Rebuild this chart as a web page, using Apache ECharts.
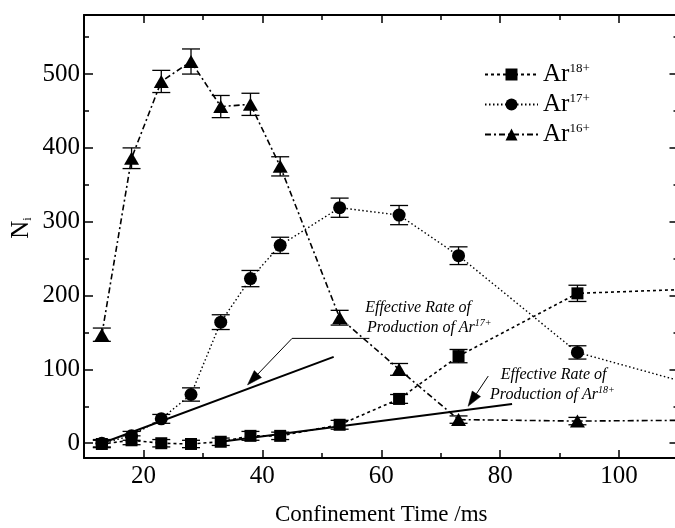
<!DOCTYPE html>
<html><head><meta charset="utf-8">
<script src="https://cdn.jsdelivr.net/npm/echarts@6.0.0/dist/echarts.min.js"></script>
<style>html,body{margin:0;padding:0;background:#fff}#c{width:675px;height:528px}</style>
</head><body><div id="c"></div>
<script>
// ---- data ----
const times = [13, 18, 23, 28, 33, 38, 43, 53, 63, 73, 93];
const ar18 = [-1, 4, 0, -1, 2, 10, 10, 25, 60, 118, 203];
const ar18Err = [5, 6, 5, 5, 5, 6, 5, 6, 6, 9, 11];
const ar17 = [0, 10, 33, 66, 164, 223, 268, 319, 309, 254, 123];
const ar17Err = [5, 6, 6, 9, 10, 11, 11, 13, 13, 12, 9];
const ar16 = [147, 386, 490, 517, 456, 459, 375, 170, 100, 32, 30];
const ar16Err = [9, 14, 15, 17, 15, 15, 13, 10, 8, 5, 5];
const tailX = 110;
const ar18Tail = 208, ar17Tail = 85, ar16Tail = 31;
const rateAr17 = [[13, 0], [52, 117]];
const rateAr18 = [[33, 2], [82, 53]];
const arrow17 = [[58, 142], [45, 142], [37.5, 79]];
const arrow18 = [[78, 91], [74.6, 50]];
const xMajorTicks = [20, 40, 60, 80, 100];
const xMinorTicks = [30, 50, 70, 90];
const yMajorTicks = [0, 100, 200, 300, 400, 500];
const yMinorTicks = [50, 150, 250, 350, 450, 550];
const seriesNames = ['Ar18+', 'Ar17+', 'Ar16+'];
const seriesSup = {'Ar18+': '18+', 'Ar17+': '17+', 'Ar16+': '16+'};

const FONT = '"Liberation Serif", "Times New Roman", serif';
const chart = echarts.init(document.getElementById('c'), null, {renderer: 'canvas'});

function xAx(pos, ticks, len, labels, withLine) {
  return {
    type: 'value', position: pos, min: 10, max: 110,
    axisLine: {show: withLine, onZero: false, lineStyle: {color: '#000', width: 2}},
    axisTick: {show: true, inside: true, length: len, customValues: ticks, lineStyle: {color: '#000', width: 1.5}},
    axisLabel: {show: labels, customValues: ticks, margin: 6, color: '#000', fontSize: 25, fontFamily: FONT},
    splitLine: {show: false}
  };
}
function yAx(pos, ticks, len, labels, withLine) {
  return {
    type: 'value', position: pos, min: -20, max: 580,
    axisLine: {show: withLine, onZero: false, lineStyle: {color: '#000', width: 2}},
    axisTick: {show: true, inside: true, length: len, customValues: ticks, lineStyle: {color: '#000', width: 1.5}},
    axisLabel: {show: labels, customValues: ticks, margin: 4, color: '#000', fontSize: 25, fontFamily: FONT},
    splitLine: {show: false}
  };
}

const xAxes = [
  Object.assign(xAx('bottom', xMajorTicks, 8, true, true), {
    name: 'Confinement Time /ms', nameLocation: 'middle', nameGap: 45,
    nameTextStyle: {color: '#000', fontSize: 23, fontFamily: FONT}
  }),
  xAx('bottom', xMinorTicks, 5, false, false),
  xAx('top', xMajorTicks, 8, false, true),
  xAx('top', xMinorTicks, 5, false, false)
];
const yAxes = [
  yAx('left', yMajorTicks, 9, true, true),
  yAx('left', yMinorTicks, 5, false, false),
  yAx('right', yMajorTicks, 9, false, true),
  yAx('right', yMinorTicks, 5, false, false)
];

function pts(vals, tail) {
  const d = times.map((t, i) => [t, vals[i]]);
  d.push({value: [tailX, tail], symbol: 'none'});
  return d;
}
function errData(vals, errs) {
  return times.map((t, i) => [t, vals[i], errs[i]]);
}
function errorSeries(vals, errs) {
  return {
    type: 'custom', z: 3, silent: true,
    renderItem: function (params, api) {
      const x = api.value(0), y = api.value(1), e = api.value(2);
      const a = api.coord([x, y + e]), b = api.coord([x, y - e]);
      const hw = 9;
      const st = {stroke: '#000', lineWidth: 1.3};
      return {type: 'group', children: [
        {type: 'line', shape: {x1: a[0], y1: a[1], x2: b[0], y2: b[1]}, style: st},
        {type: 'line', shape: {x1: a[0] - hw, y1: a[1], x2: a[0] + hw, y2: a[1]}, style: st},
        {type: 'line', shape: {x1: b[0] - hw, y1: b[1], x2: b[0] + hw, y2: b[1]}, style: st}
      ]};
    },
    data: errData(vals, errs)
  };
}

const arrows = [arrow17, arrow18];
const arrowSeries = {
  type: 'custom', z: 2, silent: true,
  renderItem: function (params, api) {
    const pts = arrows[params.dataIndex].map(p => api.coord(p));
    const tip = pts[pts.length - 1], prev = pts[pts.length - 2];
    const dx = tip[0] - prev[0], dy = tip[1] - prev[1];
    const L = Math.sqrt(dx * dx + dy * dy);
    const ux = dx / L, uy = dy / L;
    const len = 15, hw = 5;
    const bx = tip[0] - ux * len, by = tip[1] - uy * len;
    const linePts = pts.slice(0, -1).concat([[bx, by]]);
    return {type: 'group', children: [
      {type: 'polyline', shape: {points: linePts}, style: {stroke: '#000', lineWidth: 1, fill: null}},
      {type: 'polygon', shape: {points: [tip, [bx - uy * hw, by + ux * hw], [bx + uy * hw, by - ux * hw]]},
        style: {fill: '#000', stroke: '#000', lineWidth: 0.5}}
    ]};
  },
  data: arrows.map((a, i) => [a[a.length - 1][0], a[a.length - 1][1]])
};

const lineBase = {type: 'line', z: 4, color: '#000', itemStyle: {color: '#000'}, showSymbol: true, animation: false};

const option = {
  animation: false,
  backgroundColor: '#fff',
  grid: {left: 84, right: -3.5, top: 15, bottom: 70, outerBoundsMode: 'none', containLabel: false},
  xAxis: xAxes,
  yAxis: yAxes,
  legend: {
    orient: 'vertical', left: 479, top: 57, itemWidth: 53, itemHeight: 15, itemGap: 5,
    data: seriesNames,
    formatter: n => '{a|Ar}{s|' + seriesSup[n] + '}',
    textStyle: {rich: {
      a: {fontSize: 25, fontFamily: FONT, color: '#000', lineHeight: 25, verticalAlign: 'bottom'},
      s: {fontSize: 13, fontFamily: FONT, color: '#000', lineHeight: 25, verticalAlign: 'top'}
    }}
  },
  series: [
    Object.assign({}, lineBase, {name: 'Ar18+', symbol: 'rect', symbolSize: 12, data: pts(ar18, ar18Tail),
      lineStyle: {color: '#000', width: 1.6, type: [3, 3]}}),
    Object.assign({}, lineBase, {name: 'Ar17+', symbol: 'circle', symbolSize: 13, data: pts(ar17, ar17Tail),
      lineStyle: {color: '#000', width: 1.4, type: [1.5, 2.5]}}),
    Object.assign({}, lineBase, {name: 'Ar16+', symbol: 'triangle', symbolSize: [15, 13], data: pts(ar16, ar16Tail),
      lineStyle: {color: '#000', width: 1.6, type: [6, 3, 2, 3]}}),
    errorSeries(ar18, ar18Err),
    errorSeries(ar17, ar17Err),
    errorSeries(ar16, ar16Err),
    {type: 'line', z: 2, symbol: 'none', data: rateAr17, lineStyle: {color: '#000', width: 2}},
    {type: 'line', z: 2, symbol: 'none', data: rateAr18, lineStyle: {color: '#000', width: 2}},
    arrowSeries
  ]
};
chart.setOption(option);

// annotation texts anchored in data coordinates (one entry per text line)
const annot = [
  {x: 57.3, y: 196.5, text: '{t|Effective Rate of}'},
  {x: 57.6, y: 169.5, text: '{t|Production of Ar}{s|17+}'},
  {x: 80.1, y: 106, text: '{t|Effective Rate of}'},
  {x: 78.3, y: 79, text: '{t|Production of Ar}{s|18+}'}
];
const rich = {
  t: {fontSize: 16, fontStyle: 'italic', fontFamily: FONT, fill: '#000', lineHeight: 18, verticalAlign: 'bottom'},
  s: {fontSize: 10, fontStyle: 'italic', fontFamily: FONT, fill: '#000', lineHeight: 18, verticalAlign: 'top'}
};
const graphics = annot.map(a => {
  const p = chart.convertToPixel({xAxisIndex: 0, yAxisIndex: 0}, [a.x, a.y]);
  return {type: 'text', x: p[0], y: p[1], z: 10,
    style: {text: a.text, rich: rich, fill: '#000', font: 'italic 16px ' + FONT}};
});
graphics.push({type: 'text', x: 21, y: 228, rotation: Math.PI / 2, z: 10,
  style: {text: 'N{i|i}', align: 'center', verticalAlign: 'middle', fill: '#000',
    rich: {i: {fontSize: 12, fontFamily: FONT, fill: '#000', verticalAlign: 'bottom', lineHeight: 26}},
    font: '25px ' + FONT}});
chart.setOption({graphic: graphics});
</script>
</body></html>
